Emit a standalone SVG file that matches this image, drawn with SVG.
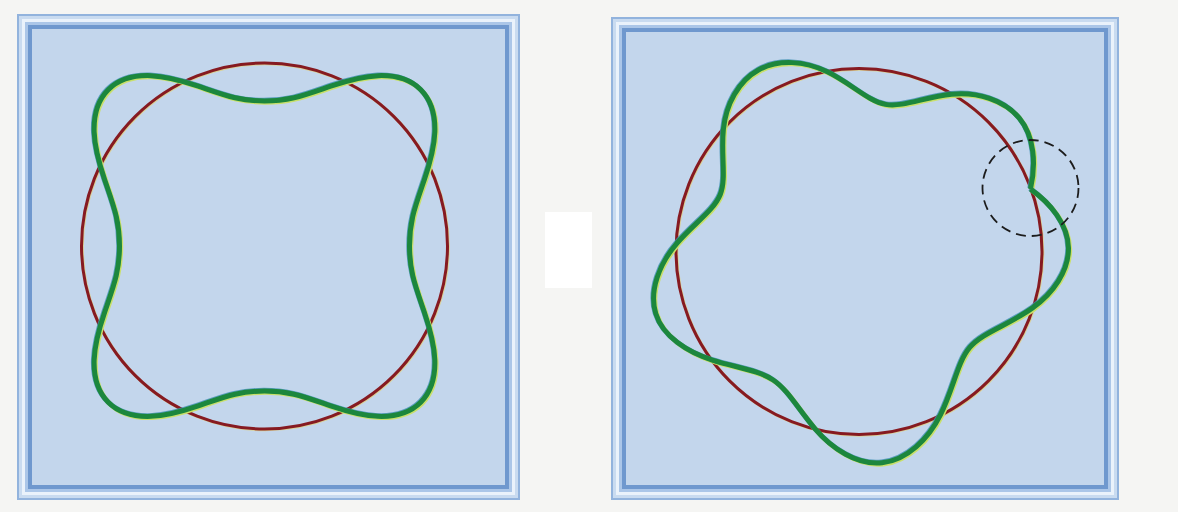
<svg xmlns="http://www.w3.org/2000/svg" xmlns:xlink="http://www.w3.org/1999/xlink" width="1178" height="512" viewBox="0 0 1178 512">
<style>
.f0{fill:#92b3dd}.f1{fill:#c9dbf0}.f2{fill:#eaf2fb}.f3{fill:#abc6e8}.f4{fill:#6f98ce}.f5{fill:#c3d6ec}
.red{fill:none;stroke:#861a21;stroke-width:3}
.redfr{fill:none;stroke:#e9cf5e;stroke-width:3;opacity:0.6}
.grn{fill:none;stroke:#1c873d;stroke-width:5;stroke-linejoin:round}
.grnY{fill:none;stroke:#c9e06a;stroke-width:5;stroke-linejoin:round}
.grnB{fill:none;stroke:#3d8fb2;stroke-width:5;stroke-linejoin:round;opacity:0.8}
.dash{fill:none;stroke:#1c1c1c;stroke-width:1.8;stroke-dasharray:10 6}
</style>
<defs>
<path id="wave4" d="M145,0 C145,9.49 145.83,18.92 148.23,29.48 C150.63,40.04 154.97,51.93 159.83,66.20 C164.69,80.47 169.76,97.31 170.34,113.82 C170.92,130.33 166.50,146.04 156.27,156.27 C146.04,166.50 130.33,170.92 113.82,170.34 C97.31,169.76 80.47,164.69 66.20,159.83 C51.93,154.97 40.04,150.63 29.48,148.23 C18.92,145.83 9.49,145 0,145 C-9.49,145 -18.92,145.83 -29.48,148.23 C-40.04,150.63 -51.93,154.97 -66.20,159.83 C-80.47,164.69 -97.31,169.76 -113.82,170.34 C-130.33,170.92 -146.04,166.50 -156.27,156.27 C-166.50,146.04 -170.92,130.33 -170.34,113.82 C-169.76,97.31 -164.69,80.47 -159.83,66.20 C-154.97,51.93 -150.63,40.04 -148.23,29.48 C-145.83,18.92 -145,9.49 -145,0 C-145,-9.49 -145.83,-18.92 -148.23,-29.48 C-150.63,-40.04 -154.97,-51.93 -159.83,-66.20 C-164.69,-80.47 -169.76,-97.31 -170.34,-113.82 C-170.92,-130.33 -166.50,-146.04 -156.27,-156.27 C-146.04,-166.50 -130.33,-170.92 -113.82,-170.34 C-97.31,-169.76 -80.47,-164.69 -66.20,-159.83 C-51.93,-154.97 -40.04,-150.63 -29.48,-148.23 C-18.92,-145.83 -9.49,-145 0,-145 C9.49,-145 18.92,-145.83 29.48,-148.23 C40.04,-150.63 51.93,-154.97 66.20,-159.83 C80.47,-164.69 97.31,-169.76 113.82,-170.34 C130.33,-170.92 146.04,-166.50 156.27,-156.27 C166.50,-146.04 170.92,-130.33 170.34,-113.82 C169.76,-97.31 164.69,-80.47 159.83,-66.20 C154.97,-51.93 150.63,-40.04 148.23,-29.48 C145.83,-18.92 145,-9.49 145,0 Z"/>
<path id="wave45" d="M171.49,62.42 C177.11,86.78 175.63,114.91 160.31,133.33 C144.99,151.75 118.43,159.73 92.63,157.25 C66.18,154.71 43.93,143.99 26.60,147.12 C9.27,150.25 -7.80,168.08 -31.69,179.73 C-54.10,190.66 -80.54,192.60 -100.60,181.48 C-120.66,170.36 -133.07,146.97 -135.62,122.12 C-138.27,96.29 -132.30,72.75 -138.83,56.80 C-145.36,40.85 -164.97,28.19 -182.33,7.96 C-199.47,-12.02 -210.26,-39.08 -203.21,-62.13 C-196.16,-85.18 -171.15,-100.88 -146.70,-108.55 C-121.94,-116.31 -100.60,-118.60 -85.84,-128.46 C-71.08,-138.32 -60.87,-157.46 -44.15,-177.08 C-27.01,-197.19 -1.76,-213.97 23.13,-211.24 C48.02,-208.52 69.44,-187.45 81.43,-163.32 C94.90,-136.21 98.32,-110.32 110.98,-95.63 C123.64,-80.94 149.09,-73.84 173.57,-56.40 C194.01,-41.83 209.87,-19.49 209.47,3.66 C209.07,26.81 191.67,48.30 171.49,62.42"/>
</defs>
<rect width="1178" height="512" fill="#f5f5f3"/>
<rect x="545" y="212" width="47" height="76" fill="#ffffff"/>

<g id="panel-left">
<rect class="f0" x="17" y="14" width="503" height="486"/>
<rect class="f1" x="19" y="16" width="499" height="482"/>
<rect class="f2" x="22" y="19" width="493" height="476"/>
<rect class="f3" x="25" y="22" width="487" height="470"/>
<rect class="f4" x="28" y="25" width="481" height="464"/>
<rect class="f5" x="32" y="29" width="473" height="456"/>
<circle class="redfr" cx="265.3" cy="246.8" r="183"/>
<circle class="red" cx="264.5" cy="246" r="183"/>
<use xlink:href="#wave4" class="grnY" transform="translate(265.7,247.2) scale(1,-1)"/>
<use xlink:href="#wave4" class="grnB" transform="translate(263.8,245.3) scale(1,-1)"/>
<use xlink:href="#wave4" class="grn" transform="translate(264.5,246) scale(1,-1)"/>
</g>

<g id="panel-right">
<rect class="f0" x="611" y="17" width="508" height="483"/>
<rect class="f1" x="613" y="19" width="504" height="479"/>
<rect class="f2" x="616" y="22" width="498" height="473"/>
<rect class="f3" x="619" y="25" width="492" height="467"/>
<rect class="f4" x="622" y="28" width="486" height="461"/>
<rect class="f5" x="626" y="32" width="478" height="453"/>
<circle class="redfr" cx="859.8" cy="252.3" r="183"/>
<circle class="red" cx="859" cy="251.5" r="183"/>
<use xlink:href="#wave45" class="grnY" transform="translate(860.2,252.7) scale(1,-1)"/>
<use xlink:href="#wave45" class="grnB" transform="translate(858.3,250.8) scale(1,-1)"/>
<use xlink:href="#wave45" class="grn" transform="translate(859,251.5) scale(1,-1)"/>
<circle id="mismatch-marker" class="dash" cx="1030.5" cy="188" r="48"/>
</g>
</svg>
